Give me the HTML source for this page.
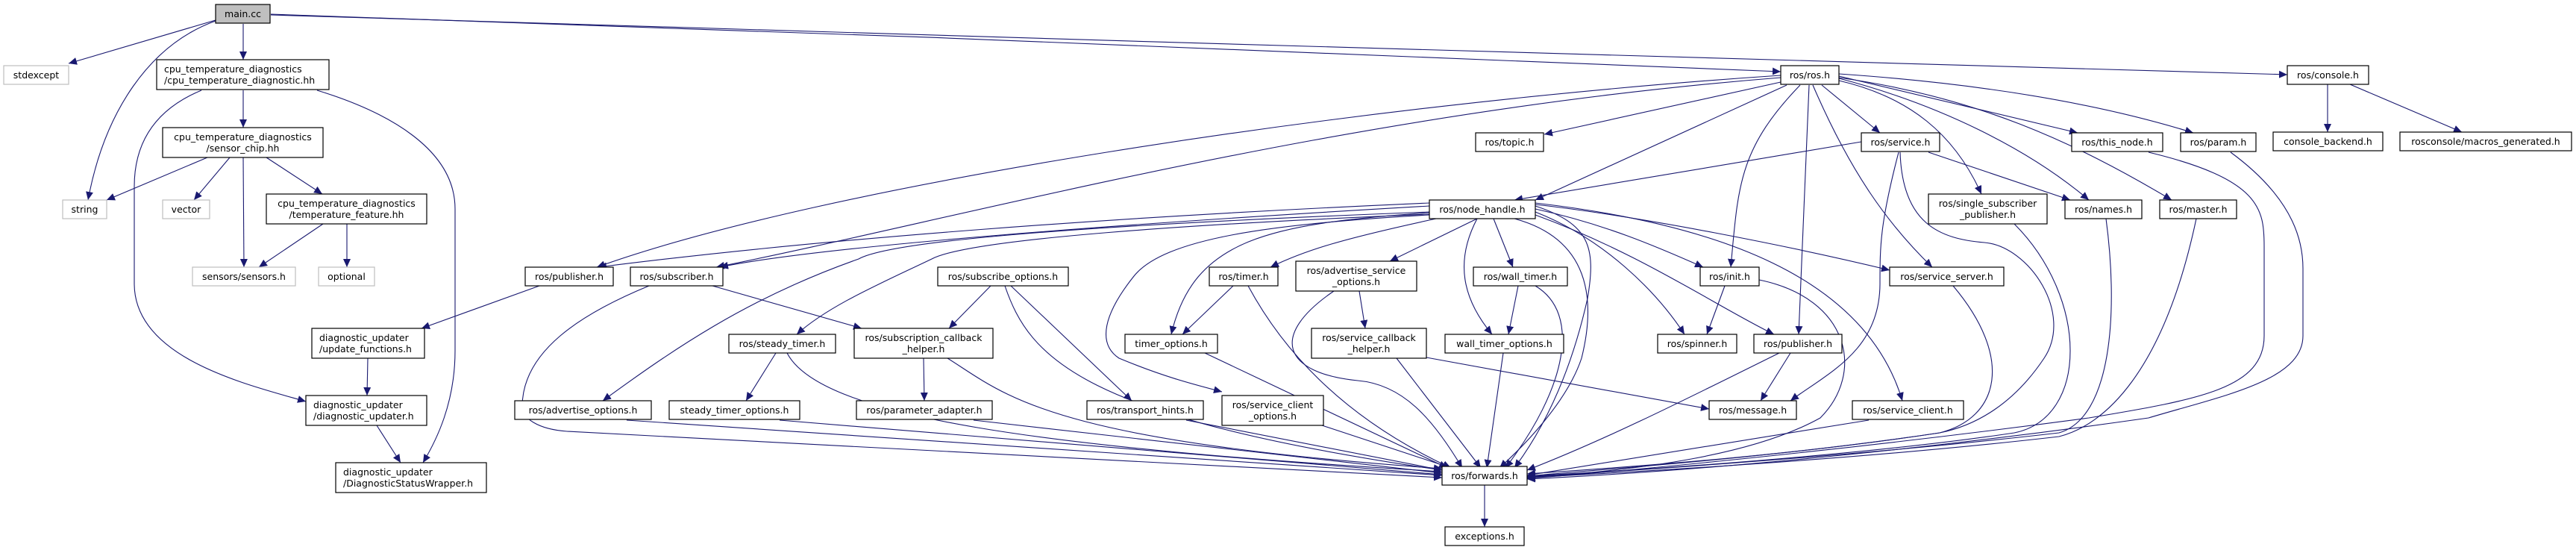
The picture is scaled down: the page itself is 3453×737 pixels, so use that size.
<!DOCTYPE html>
<html><head><meta charset="utf-8"><style>
html,body{margin:0;padding:0;background:#fff}
svg{display:block}
text{font-family:"DejaVu Sans","Liberation Sans",sans-serif;font-size:12.5px;fill:#000}
.n{fill:#fff;stroke:#000;stroke-width:1.2}
.g{fill:#fff;stroke:#bfbfbf;stroke-width:1.2}
.e{fill:none;stroke:#191970;stroke-width:1.1}
</style></head><body>
<svg width="3453" height="737" viewBox="0 0 3453 737" xmlns="http://www.w3.org/2000/svg">
<defs><marker id="a" markerUnits="userSpaceOnUse" markerWidth="12" markerHeight="10" refX="11" refY="5" orient="auto"><path d="M0,0 L11,5 L0,10 Z" fill="#191970"/></marker></defs>
<g class="e" marker-end="url(#a)">
<path d="M289,27 L92,85"/>
<path d="M289,28 C200,60 140,150 118,268"/>
<path d="M326,32 L326,80"/>
<path d="M363,19 C1000,40 1800,70 2387,96"/>
<path d="M363,20 C1200,45 2300,80 3066,100"/>
<path d="M326,121 L326,171"/>
<path d="M270,121 C200,150 180,200 180,250 L180,380 C180,480 330,515 410,538"/>
<path d="M425,121 C520,150 610,200 610,280 L610,470 C610,540 585,590 567,620"/>
<path d="M278,211 L143,268"/>
<path d="M308,211 L260,268"/>
<path d="M326,211 L327,358"/>
<path d="M357,211 L432,260"/>
<path d="M433,300 L347,358"/>
<path d="M465,300 L465,358"/>
<path d="M723,383 L565,440"/>
<path d="M493,480 L492,530"/>
<path d="M505,570 L537,620"/>
<path d="M2387,110 L2070,180"/>
<path d="M2395,114 L2058,268"/>
<path d="M2387,101 C1800,140 1100,250 800,358"/>
<path d="M2387,104 C1800,150 1300,290 960,358"/>
<path d="M1916,272 C1500,290 1100,320 802,358"/>
<path d="M1916,276 C1500,300 1100,330 965,358"/>
<path d="M2413,114 C2330,200 2330,250 2320,358"/>
<path d="M2425,114 L2411,448"/>
<path d="M2430,114 C2480,230 2530,300 2590,358"/>
<path d="M2442,114 L2520,178"/>
<path d="M2465,108 C2560,130 2620,180 2656,260"/>
<path d="M2465,105 C2600,140 2720,200 2800,268"/>
<path d="M2465,104 C2650,130 2780,190 2911,268"/>
<path d="M2465,102 L2785,178"/>
<path d="M2465,99 C2700,115 2850,150 2940,178"/>
<path d="M2495,190 L2030,268"/>
<path d="M2585,204 L2775,268"/>
<path d="M2545,204 C2520,300 2520,330 2520,380 C2520,470 2450,500 2400,537"/>
<path d="M2547,204 C2550,300 2600,320 2660,325 C2720,330 2780,420 2740,480 C2700,540 2650,570 2600,580 C2400,610 2200,625 2047,635"/>
<path d="M1916,284 C1500,300 1200,320 1151,347 C1000,400 900,470 808,537"/>
<path d="M1916,287 C1600,300 1300,320 1249,347 C1180,380 1110,410 1068,448"/>
<path d="M1925,293 C1800,320 1750,335 1703,358"/>
<path d="M1980,293 L1863,350"/>
<path d="M2002,293 L2028,358"/>
<path d="M1980,293 C1950,350 1960,400 2000,448"/>
<path d="M1916,285 C1700,300 1600,320 1570,448"/>
<path d="M1916,288 C1700,300 1560,320 1520,370 C1480,420 1470,460 1500,480 C1560,505 1600,515 1638,525"/>
<path d="M2058,280 C2150,300 2220,330 2283,358"/>
<path d="M2058,284 C2150,320 2220,390 2258,448"/>
<path d="M2058,288 C2200,340 2300,410 2378,448"/>
<path d="M2058,274 C2200,290 2400,330 2533,362"/>
<path d="M2058,272 C2300,300 2500,370 2550,537"/>
<path d="M2030,293 C2130,320 2140,400 2120,480 C2100,540 2040,600 2010,627"/>
<path d="M2058,276 C2130,300 2140,330 2128,400 C2110,480 2080,560 2030,627"/>
<path d="M955,383 L1155,440"/>
<path d="M870,383 C780,420 700,470 700,545 C700,560 720,575 760,578 C1200,600 1600,620 1933,640"/>
<path d="M1328,383 L1272,440"/>
<path d="M1355,383 L1517,537"/>
<path d="M1347,383 C1380,480 1450,560 1933,630"/>
<path d="M1653,383 L1585,448"/>
<path d="M1673,383 C1720,470 1800,560 1945,627"/>
<path d="M1822,390 L1830,440"/>
<path d="M1788,390 C1700,450 1720,500 1820,510 C1880,515 1920,560 1960,627"/>
<path d="M2035,383 L2022,448"/>
<path d="M2058,383 C2120,420 2100,520 2018,627"/>
<path d="M1040,473 L1000,537"/>
<path d="M1055,473 C1100,560 1400,600 1933,632"/>
<path d="M1238,480 L1239,537"/>
<path d="M1270,480 C1350,530 1400,590 1933,628"/>
<path d="M1872,480 L1985,627"/>
<path d="M1912,479 L2291,548"/>
<path d="M1615,473 L1940,627"/>
<path d="M2015,473 L1993,627"/>
<path d="M1590,563 L1933,630"/>
<path d="M1772,570 L1945,627"/>
<path d="M840,563 L1933,637"/>
<path d="M1045,563 L1933,636"/>
<path d="M1305,563 L1933,634"/>
<path d="M2312,383 L2288,448"/>
<path d="M2358,375 C2480,400 2500,500 2440,560 C2350,610 2200,630 2047,640"/>
<path d="M2400,473 L2360,537"/>
<path d="M2385,473 C2250,540 2150,590 2047,630"/>
<path d="M2618,383 C2700,480 2680,560 2600,580 C2400,610 2200,625 2047,638"/>
<path d="M2505,563 L2047,637"/>
<path d="M2700,300 C2800,400 2800,560 2700,580 C2500,610 2200,630 2047,638"/>
<path d="M2823,293 C2840,420 2830,560 2760,580 C2500,610 2200,630 2047,639"/>
<path d="M2944,293 C2900,500 2820,570 2760,585 C2500,615 2200,632 2047,640"/>
<path d="M2880,204 C3030,240 3035,280 3035,330 L3035,450 C3035,520 2950,535 2800,560 C2500,600 2200,630 2047,641"/>
<path d="M2990,204 C3080,270 3087,330 3087,360 L3087,450 C3087,510 2980,530 2880,560 C2600,600 2300,630 2047,642"/>
<path d="M3120,113 L3120,177"/>
<path d="M3150,113 L3300,177"/>
<path d="M1990,649 L1990,706"/>
</g>
<g>
<rect x="289" y="6" width="73" height="25" fill="#bfbfbf" stroke="#000" stroke-width="1.2"/><text x="325.5" y="23" text-anchor="middle">main.cc</text>
<rect class="g" x="5" y="88" width="87" height="25"/><text x="48.5" y="105" text-anchor="middle">stdexcept</text>
<rect class="n" x="210" y="80" width="231" height="40"/><text x="220" y="97">cpu_temperature_diagnostics</text><text x="220" y="112">/cpu_temperature_diagnostic.hh</text>
<rect class="n" x="218" y="171" width="215" height="40"/><text x="325.5" y="188" text-anchor="middle">cpu_temperature_diagnostics</text><text x="325.5" y="203" text-anchor="middle">/sensor_chip.hh</text>
<rect class="g" x="84" y="268" width="59" height="25"/><text x="113.5" y="285" text-anchor="middle">string</text>
<rect class="g" x="218" y="268" width="63" height="25"/><text x="249.5" y="285" text-anchor="middle">vector</text>
<rect class="n" x="357" y="260" width="215" height="40"/><text x="464.5" y="277" text-anchor="middle">cpu_temperature_diagnostics</text><text x="464.5" y="292" text-anchor="middle">/temperature_feature.hh</text>
<rect class="g" x="258" y="358" width="138" height="25"/><text x="327" y="375" text-anchor="middle">sensors/sensors.h</text>
<rect class="g" x="427" y="358" width="75" height="25"/><text x="464.5" y="375" text-anchor="middle">optional</text>
<rect class="n" x="418" y="440" width="151" height="40"/><text x="428" y="457">diagnostic_updater</text><text x="428" y="472">/update_functions.h</text>
<rect class="n" x="410" y="530" width="162" height="40"/><text x="420" y="547">diagnostic_updater</text><text x="420" y="562">/diagnostic_updater.h</text>
<rect class="n" x="450" y="620" width="202" height="40"/><text x="460" y="637">diagnostic_updater</text><text x="460" y="652">/DiagnosticStatusWrapper.h</text>
<rect class="n" x="704" y="358" width="118" height="25"/><text x="763" y="375" text-anchor="middle">ros/publisher.h</text>
<rect class="n" x="845" y="358" width="124" height="25"/><text x="907" y="375" text-anchor="middle">ros/subscriber.h</text>
<rect class="n" x="1257" y="358" width="175" height="25"/><text x="1344.5" y="375" text-anchor="middle">ros/subscribe_options.h</text>
<rect class="n" x="977" y="448" width="143" height="25"/><text x="1048.5" y="465" text-anchor="middle">ros/steady_timer.h</text>
<rect class="n" x="1145" y="440" width="186" height="40"/><text x="1238" y="457" text-anchor="middle">ros/subscription_callback</text><text x="1238" y="472" text-anchor="middle">_helper.h</text>
<rect class="n" x="690" y="537" width="183" height="25"/><text x="781.5" y="554" text-anchor="middle">ros/advertise_options.h</text>
<rect class="n" x="897" y="537" width="175" height="25"/><text x="984.5" y="554" text-anchor="middle">steady_timer_options.h</text>
<rect class="n" x="1148" y="537" width="182" height="25"/><text x="1239" y="554" text-anchor="middle">ros/parameter_adapter.h</text>
<rect class="n" x="1978" y="178" width="91" height="25"/><text x="2023.5" y="195" text-anchor="middle">ros/topic.h</text>
<rect class="n" x="1916" y="268" width="142" height="25"/><text x="1987" y="285" text-anchor="middle">ros/node_handle.h</text>
<rect class="n" x="1621" y="358" width="92" height="25"/><text x="1667" y="375" text-anchor="middle">ros/timer.h</text>
<rect class="n" x="1737" y="350" width="162" height="40"/><text x="1818" y="367" text-anchor="middle">ros/advertise_service</text><text x="1818" y="382" text-anchor="middle">_options.h</text>
<rect class="n" x="1975" y="358" width="126" height="25"/><text x="2038" y="375" text-anchor="middle">ros/wall_timer.h</text>
<rect class="n" x="1508" y="448" width="124" height="25"/><text x="1570" y="465" text-anchor="middle">timer_options.h</text>
<rect class="n" x="1758" y="440" width="154" height="40"/><text x="1835" y="457" text-anchor="middle">ros/service_callback</text><text x="1835" y="472" text-anchor="middle">_helper.h</text>
<rect class="n" x="1937" y="448" width="159" height="25"/><text x="2016.5" y="465" text-anchor="middle">wall_timer_options.h</text>
<rect class="n" x="1457" y="537" width="156" height="25"/><text x="1535" y="554" text-anchor="middle">ros/transport_hints.h</text>
<rect class="n" x="1638" y="530" width="136" height="40"/><text x="1706" y="547" text-anchor="middle">ros/service_client</text><text x="1706" y="562" text-anchor="middle">_options.h</text>
<rect class="n" x="1933" y="625" width="114" height="25"/><text x="1990" y="642" text-anchor="middle">ros/forwards.h</text>
<rect class="n" x="1937" y="706" width="106" height="25"/><text x="1990" y="723" text-anchor="middle">exceptions.h</text>
<rect class="n" x="2387" y="88" width="78" height="25"/><text x="2426" y="105" text-anchor="middle">ros/ros.h</text>
<rect class="n" x="2495" y="178" width="105" height="25"/><text x="2547.5" y="195" text-anchor="middle">ros/service.h</text>
<rect class="n" x="2585" y="260" width="159" height="40"/><text x="2664.5" y="277" text-anchor="middle">ros/single_subscriber</text><text x="2664.5" y="292" text-anchor="middle">_publisher.h</text>
<rect class="n" x="2279" y="358" width="79" height="25"/><text x="2318.5" y="375" text-anchor="middle">ros/init.h</text>
<rect class="n" x="2533" y="358" width="153" height="25"/><text x="2609.5" y="375" text-anchor="middle">ros/service_server.h</text>
<rect class="n" x="2222" y="448" width="106" height="25"/><text x="2275" y="465" text-anchor="middle">ros/spinner.h</text>
<rect class="n" x="2351" y="448" width="118" height="25"/><text x="2410" y="465" text-anchor="middle">ros/publisher.h</text>
<rect class="n" x="2291" y="537" width="117" height="25"/><text x="2349.5" y="554" text-anchor="middle">ros/message.h</text>
<rect class="n" x="2483" y="537" width="149" height="25"/><text x="2557.5" y="554" text-anchor="middle">ros/service_client.h</text>
<rect class="n" x="2777" y="178" width="122" height="25"/><text x="2838" y="195" text-anchor="middle">ros/this_node.h</text>
<rect class="n" x="2768" y="268" width="103" height="25"/><text x="2819.5" y="285" text-anchor="middle">ros/names.h</text>
<rect class="n" x="2895" y="268" width="103" height="25"/><text x="2946.5" y="285" text-anchor="middle">ros/master.h</text>
<rect class="n" x="2923" y="178" width="101" height="25"/><text x="2973.5" y="195" text-anchor="middle">ros/param.h</text>
<rect class="n" x="3066" y="88" width="109" height="25"/><text x="3120.5" y="105" text-anchor="middle">ros/console.h</text>
<rect class="n" x="3047" y="177" width="147" height="25"/><text x="3120.5" y="194" text-anchor="middle">console_backend.h</text>
<rect class="n" x="3217" y="177" width="230" height="25"/><text x="3332" y="194" text-anchor="middle">rosconsole/macros_generated.h</text>
</g>
</svg>
</body></html>
